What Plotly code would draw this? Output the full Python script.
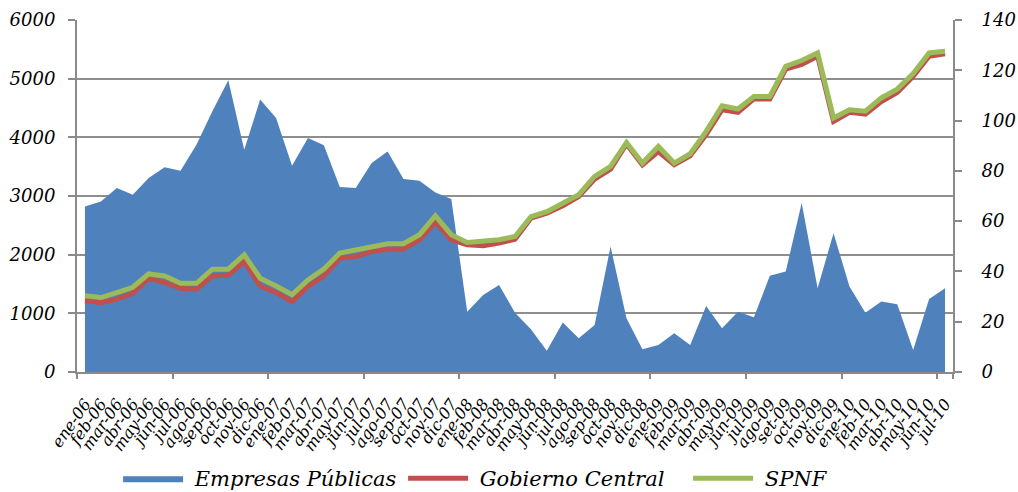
import plotly.graph_objects as go

months = ["ene-06","feb-06","mar-06","abr-06","may-06","jun-06","jul-06","ago-06","sep-06","oct-06","nov-06","dic-06",
          "ene-07","feb-07","mar-07","abr-07","may-07","jun-07","jul-07","ago-07","sep-07","oct-07","nov-07","dic-07",
          "ene-08","feb-08","mar-08","abr-08","may-08","jun-08","jul-08","ago-08","sep-08","oct-08","nov-08","dic-08",
          "ene-09","feb-09","mar-09","abr-09","may-09","jun-09","jul-09","ago-09","set-09","oct-09","nov-09","dic-09",
          "ene-10","feb-10","mar-10","abr-10","may-10","jun-10","jul-10"]

empresas_publicas = [2822, 2907, 3136, 3021, 3306, 3488, 3431, 3875, 4443, 4973, 3790, 4643,
                     4331, 3517, 3989, 3863, 3152, 3135, 3562, 3760, 3289, 3260, 3060, 2948,
                     1029, 1314, 1485, 1012, 729, 364, 842, 575, 802, 2139, 917, 387,
                     461, 660, 461, 1127, 746, 1029, 934, 1639, 1712, 2880, 1428, 2367,
                     1456, 1012, 1200, 1155, 376, 1246, 1428]

gobierno_central = [28.4, 27.6, 29.0, 31.3, 37.3, 35.6, 33.3, 32.9, 38.2, 38.6, 43.9, 34.2,
                    31.6, 28.0, 34.0, 38.2, 45.3, 45.9, 47.9, 48.9, 48.9, 52.6, 59.5, 52.6,
                    50.6, 50.2, 51.3, 52.8, 61.2, 63.2, 66.1, 69.8, 76.7, 80.7, 90.7, 82.4,
                    87.7, 82.4, 86.0, 94.4, 104.3, 103.3, 108.6, 108.6, 120.5, 122.3, 125.6, 99.7,
                    103.3, 102.6, 107.6, 111.2, 117.6, 125.6, 126.6]

spnf = [30.3, 29.6, 31.6, 33.7, 39.0, 38.2, 35.3, 35.3, 40.9, 40.9, 46.6, 37.3,
        34.2, 30.7, 36.6, 40.9, 47.3, 48.6, 50.2, 51.0, 51.0, 54.6, 62.1, 54.6,
        51.5, 51.9, 52.6, 53.9, 61.8, 63.8, 67.2, 70.5, 77.8, 81.8, 91.3, 83.1,
        89.7, 83.1, 86.8, 95.7, 105.9, 104.6, 109.6, 109.6, 121.6, 123.9, 126.9, 101.0,
        104.3, 103.7, 109.0, 112.5, 118.7, 126.9, 127.6]

FONT = "DejaVu Serif"
GRID = "#8e8e8e"
AXIS = "#8a8a8a"
NB = "\u00a0"

fig = go.Figure()
fig.add_trace(go.Scatter(x=months, y=empresas_publicas, name=NB + "Empresas Públicas",
                         mode="lines", fill="tozeroy", fillcolor="#4F81BD",
                         line=dict(width=0, color="#4F81BD")))
fig.add_trace(go.Scatter(x=months, y=gobierno_central, name=NB + "Gobierno Central", yaxis="y2",
                         mode="lines", line=dict(color="#C0504D", width=5)))
fig.add_trace(go.Scatter(x=months, y=spnf, name=NB + "SPNF", yaxis="y2",
                         mode="lines", line=dict(color="#9BBB59", width=5)))
# helper trace for tick marks axis
fig.add_trace(go.Scatter(x=[0], y=[None], xaxis="x2", showlegend=False, hoverinfo="skip"))

boundaries = [i - 0.5 for i in range(0, len(months) + 1, 6)] + [len(months) - 0.5]

fig.update_layout(
    width=1018, height=492,
    margin=dict(l=77, r=65, t=20, b=120),
    plot_bgcolor="white", paper_bgcolor="white",
    font=dict(family=FONT, style="italic", color="black"),
    xaxis=dict(type="category", categoryorder="array", categoryarray=months,
               range=[-0.5, len(months) - 0.5], automargin=False,
               tickmode="array", tickvals=months, ticktext=months,
               tickangle=-55, tickfont=dict(size=16, family=FONT, style="italic"),
               ticklabelstandoff=14,
               ticks="", showgrid=False, showline=True, linecolor=AXIS, linewidth=2),
    xaxis2=dict(overlaying="x", range=[-0.5, len(months) - 0.5], anchor="y", automargin=False,
                tickmode="array", tickvals=boundaries, ticks="outside", ticklen=6,
                tickwidth=2, tickcolor=AXIS, showticklabels=False, showgrid=False,
                showline=False, zeroline=False),
    yaxis=dict(range=[0, 6000], dtick=1000, automargin=False,
               tickfont=dict(size=18, family=FONT, style="italic"),
               showgrid=True, gridcolor=GRID, gridwidth=1.5, zeroline=False,
               showline=True, linecolor=AXIS, linewidth=2, ticks="outside", ticklen=7,
               tickcolor=AXIS, tickwidth=2, ticklabelstandoff=9),
    yaxis2=dict(range=[0, 140], dtick=20, overlaying="y", side="right", automargin=False,
                tickfont=dict(size=18, family=FONT, style="italic"),
                showgrid=False, zeroline=False, showline=True, linecolor=AXIS, linewidth=2,
                ticks="outside", ticklen=7, tickcolor=AXIS, tickwidth=2, ticklabelstandoff=16),
    legend=dict(orientation="h", xref="container", yref="container",
                x=0.116, xanchor="left", y=0.069, yanchor="top",
                font=dict(size=21, family=FONT, style="italic"), itemwidth=60,
                entrywidth=210, entrywidthmode="pixels",
                bgcolor="rgba(0,0,0,0)"),
    showlegend=True,
)

fig.write_html("out.html", config={"displayModeBar": False},
               post_script="document.body.style.margin='0';")
